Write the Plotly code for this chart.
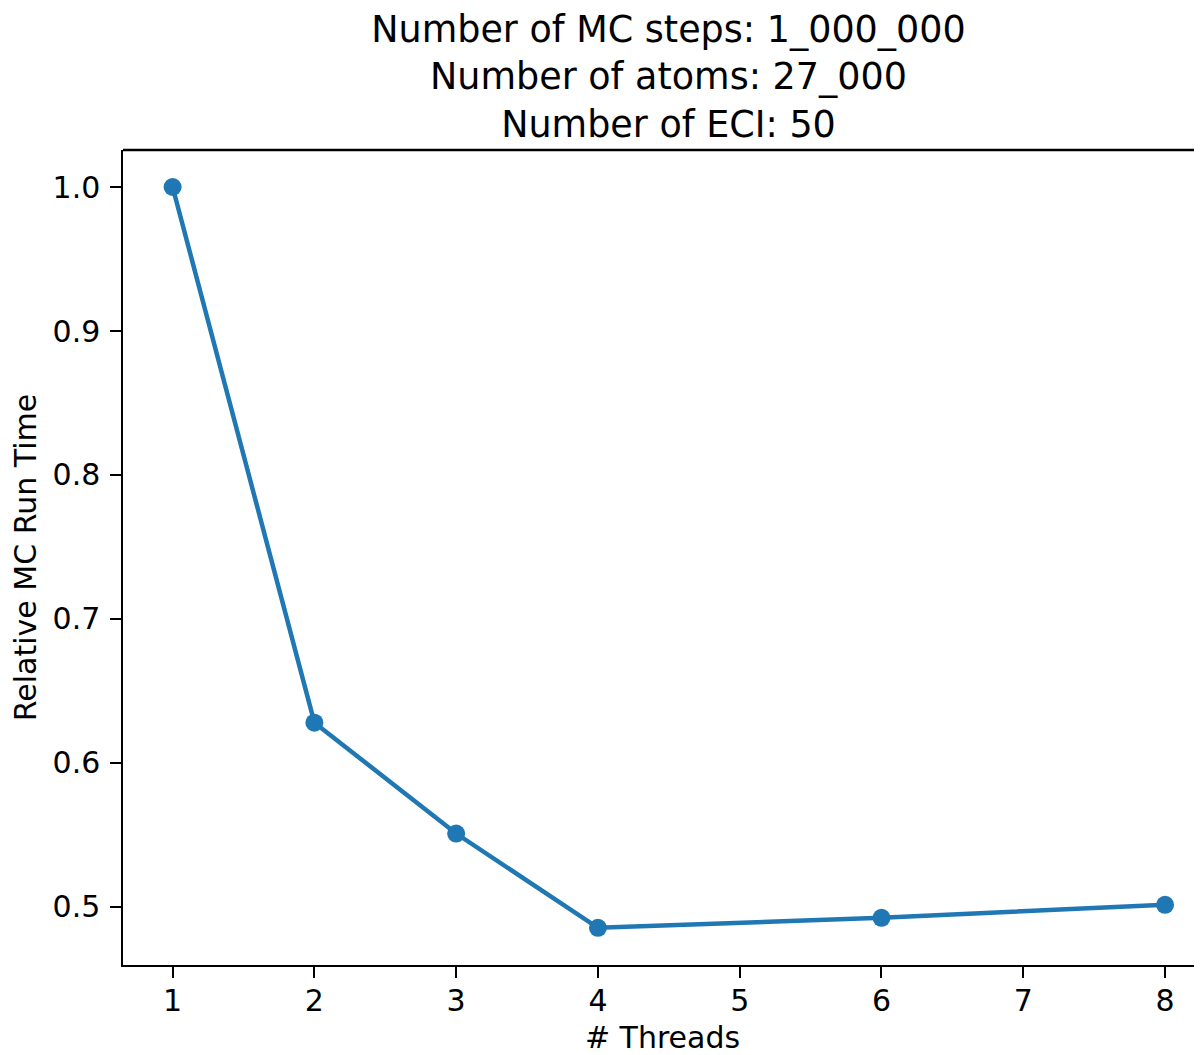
import plotly.graph_objects as go

threads = [1, 2, 3, 4, 6, 8]
rel_time = [1.0, 0.628, 0.551, 0.4855, 0.4925, 0.5015]
x_ticks = [1, 2, 3, 4, 5, 6, 7, 8]
y_ticks = [0.5, 0.6, 0.7, 0.8, 0.9, 1.0]
title_lines = ["Number of MC steps: 1_000_000", "Number of atoms: 27_000", "Number of ECI: 50"]

color = "#1f77b4"
font = "DejaVu Sans"

# the page body adds an 8px offset; compensate
OFF = 8
W, H = 1202 - OFF, 1055 - OFF

fig = go.Figure()
fig.add_trace(go.Scatter(
    x=threads, y=rel_time, mode="lines+markers",
    line=dict(color=color, width=4.5),
    marker=dict(color=color, size=18),
    showlegend=False,
))

axis_common = dict(
    showgrid=False, zeroline=False, showline=True, linecolor="black", linewidth=2.4,
    ticks="outside", ticklen=10.5, tickwidth=2.4, tickcolor="black",
    tickfont=dict(family=font, size=30, color="black"),
)

fig.update_layout(
    width=W, height=H,
    margin=dict(l=123 - OFF, r=0, t=150 - OFF, b=90, autoexpand=False),
    paper_bgcolor="white", plot_bgcolor="white",
    font=dict(family=font, color="black"),
    title=dict(
        text="<br>".join(title_lines),
        font=dict(family=font, size=36.5, color="black"),
        x=((123 + 1214) / 2 - OFF) / W, xanchor="center",
        y=1 - (42 - OFF) / H, yanchor="middle",
    ),
    xaxis=dict(
        range=[0.65, 8.2607], tickvals=x_ticks, ticktext=[str(v) for v in x_ticks],
        title=dict(text="# Threads", font=dict(family=font, size=30, color="black"), standoff=18),
        automargin=False, ticklabelstandoff=-3,
        **axis_common,
    ),
    yaxis=dict(
        range=[0.4597, 1.0257], tickvals=y_ticks, ticktext=[f"{v:.1f}" for v in y_ticks],
        title=dict(text="Relative MC Run Time", font=dict(family=font, size=30, color="black"), standoff=14),
        automargin=False, ticklabelstandoff=4,
        **axis_common,
    ),
    shapes=[dict(type="line", xref="paper", yref="paper", x0=0, x1=1, y0=1, y1=1,
                 line=dict(color="black", width=2.4))],
)

fig.write_html("out.html")
